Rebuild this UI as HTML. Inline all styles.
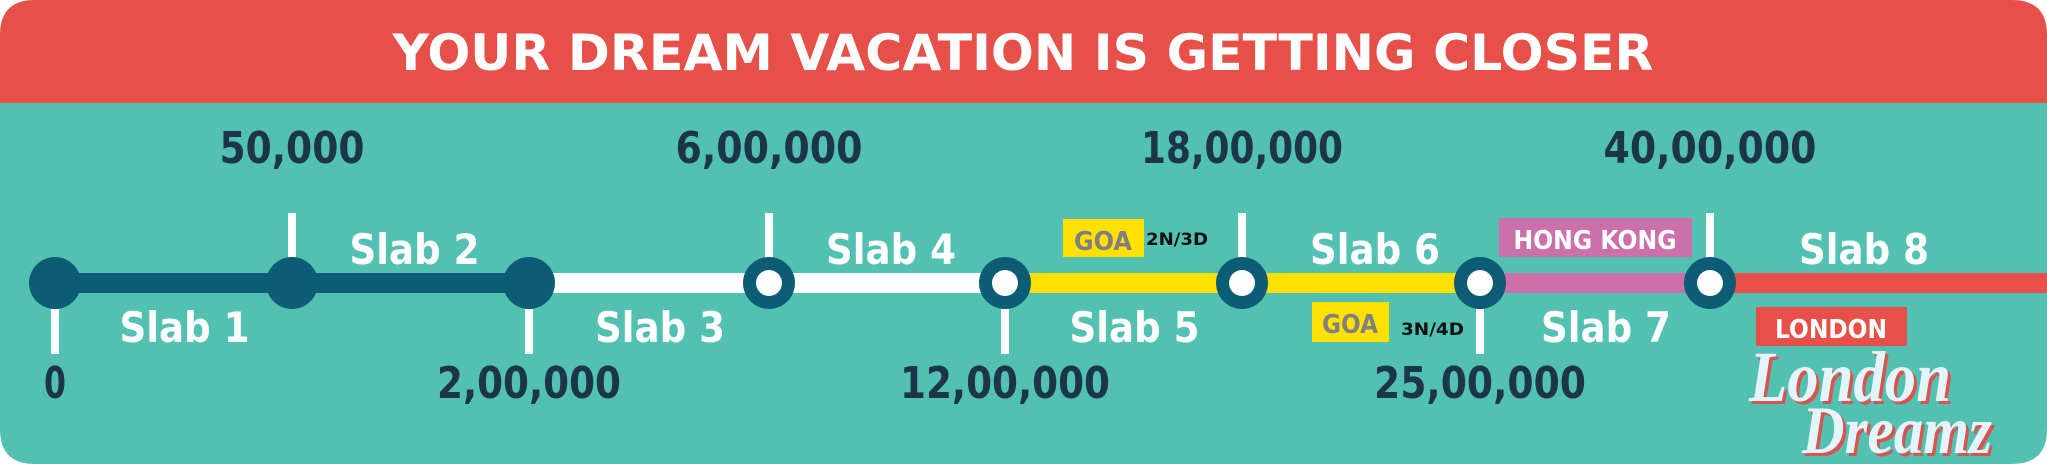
<!DOCTYPE html>
<html><head><meta charset="utf-8"><style>
html,body{margin:0;padding:0;background:#fff;width:2047px;height:464px;overflow:hidden}
svg{display:block}
text{font-family:"DejaVu Sans","Liberation Sans",sans-serif;font-weight:bold}
</style></head><body>
<svg id="chart" width="2047" height="464" viewBox="0 0 2047 464" xmlns="http://www.w3.org/2000/svg">
  <path d="M0 90 H2047 V429 Q2047 464 2012 464 H35 Q0 464 0 429 Z" fill="#52C1B1"/>
  <path d="M0 35 Q0 0 35 0 H2012 Q2047 0 2047 35 V103 H0 Z" fill="#E65048"/>
  <text x="1023" y="70" text-anchor="middle" font-size="50" fill="#fff" textLength="1261" lengthAdjust="spacingAndGlyphs">YOUR DREAM VACATION IS GETTING CLOSER</text>
  <g id="segs"></g><g id="ticks"></g><g id="nodes"></g><g id="labels"></g>
  <rect x="1063" y="219" width="81" height="38" fill="#FFE000"/>
  <text x="1103" y="250" text-anchor="middle" font-size="26" fill="#808080" textLength="58" lengthAdjust="spacingAndGlyphs">GOA</text>
  <text x="1146" y="245" font-size="17" fill="#111" textLength="62" lengthAdjust="spacingAndGlyphs">2N/3D</text>
  <rect x="1312" y="302" width="77" height="40" fill="#FFE000"/>
  <text x="1350" y="333" text-anchor="middle" font-size="26" fill="#808080" textLength="56" lengthAdjust="spacingAndGlyphs">GOA</text>
  <text x="1401" y="335" font-size="17" fill="#111" textLength="63" lengthAdjust="spacingAndGlyphs">3N/4D</text>
  <rect x="1499" y="218" width="193" height="39" fill="#CC70AC"/>
  <text x="1595" y="249" text-anchor="middle" font-size="26" fill="#fff" textLength="163" lengthAdjust="spacingAndGlyphs">HONG KONG</text>
  <rect x="1756" y="307" width="151" height="39" fill="#E65048"/>
  <text x="1831" y="338" text-anchor="middle" font-size="26" fill="#fff" textLength="112" lengthAdjust="spacingAndGlyphs">LONDON</text>
  <g font-style="italic">
    <text x="1752" y="404" font-size="72" fill="#D9534F" textLength="202" lengthAdjust="spacingAndGlyphs" style="font-family:'Liberation Serif',serif">London</text>
    <text x="1749" y="401" font-size="72" fill="#E3F4FB" textLength="202" lengthAdjust="spacingAndGlyphs" style="font-family:'Liberation Serif',serif">London</text>
    <text x="1805" y="456" font-size="68" fill="#D9534F" textLength="190" lengthAdjust="spacingAndGlyphs" style="font-family:'Liberation Serif',serif">Dreamz</text>
    <text x="1802" y="453" font-size="68" fill="#E3F4FB" textLength="190" lengthAdjust="spacingAndGlyphs" style="font-family:'Liberation Serif',serif">Dreamz</text>
  </g>
</svg>
<script>
const nodeX = [55, 292, 529, 769, 1005, 1242, 1480, 1710];
const amountLabels = ["0","50,000","2,00,000","6,00,000","12,00,000","18,00,000","25,00,000","40,00,000"];
const amountWidths = [22,145,184,187,210,202,212,213];
const slabNames = ["Slab 1","Slab 2","Slab 3","Slab 4","Slab 5","Slab 6","Slab 7","Slab 8"];
const segColors = ["#0D5C75","#0D5C75","#FFFFFF","#FFFFFF","#FFE000","#FFE000","#CC70AC","#E65048"];
const NS = "http://www.w3.org/2000/svg";
const lineY = 283;
function mk(tag, attrs, parent){const e=document.createElementNS(NS,tag);for(const k in attrs)e.setAttribute(k,attrs[k]);parent.appendChild(e);return e;}
const segs=document.getElementById('segs'), ticks=document.getElementById('ticks'), nodes=document.getElementById('nodes'), labels=document.getElementById('labels');
for(let i=0;i<nodeX.length;i++){
  const x0=nodeX[i], x1=(i<nodeX.length-1)?nodeX[i+1]:2047;
  const s=mk('rect',{x:x0,y:lineY-10,width:x1-x0,height:20,fill:segColors[i]},segs);
  
  
  const up = i%2===1;
  const t=mk('rect',{x:nodeX[i]-4,y:up?213:309,width:8,height:45,fill:'#fff'},ticks);
  
  
  const dark = i<3;
  const c=mk('circle',{cx:nodeX[i],cy:lineY,r:26,fill:'#0D5C75'},nodes);
  
  
  if(!dark){const ci=mk('circle',{cx:nodeX[i],cy:lineY,r:13,fill:'#fff'},nodes);
    
    }
  const a=mk('text',{x:nodeX[i],y:up?163:398,'text-anchor':'middle','font-size':44,fill:'#1D3549',textLength:amountWidths[i],lengthAdjust:'spacingAndGlyphs'},labels);
  a.textContent=amountLabels[i];
  
  
  const sx=(x0+(i<nodeX.length-1?x1:2010))/2 + (up?(i===5?14:4):11);
  const sl=mk('text',{x:sx,y:up?264:342,'text-anchor':'middle','font-size':42,fill:'#fff',textLength:130,lengthAdjust:'spacingAndGlyphs'},labels);
  sl.textContent=slabNames[i];
  
  
}
</script>
</body></html>
